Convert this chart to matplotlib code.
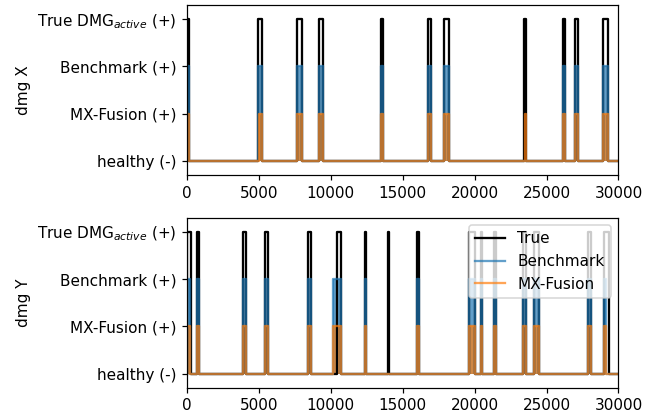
import numpy as np
import matplotlib
matplotlib.use("Agg")
import matplotlib.pyplot as plt

# damage intervals (start, end) per signal
true_x = [(0, 150), (4965, 5190), (7650, 8030), (9190, 9480), (13500, 13650),
          (16730, 16990), (17850, 18240), (23460, 23590), (26125, 26280),
          (26980, 27200), (28950, 29290)]
bench_x = [(0, 150), (4965, 5190), (7650, 8030), (9190, 9480), (13500, 13650),
           (16730, 16990), (17850, 18240), (26125, 26280), (26980, 27200),
           (28950, 29290)]
mxf_x = [(0, 150), (4990, 5190), (7660, 8030), (9190, 9480), (13510, 13650),
         (16730, 16990), (17850, 18240), (23480, 23590), (26125, 26280),
         (26980, 27200), (28950, 29290)]

true_y = [(0, 290), (680, 830), (3930, 4110), (5435, 5635), (8445, 8625),
          (10440, 10750), (12380, 12480), (13970, 14050), (16020, 16130),
          (19630, 20045), (20440, 20550), (21330, 21480), (23345, 23570),
          (24150, 24490), (27860, 28085), (29015, 29310)]
bench_y = [(0, 230), (680, 830), (3930, 4110), (5435, 5635), (8445, 8625),
           (10140, 10750), (12380, 12480), (16020, 16130), (19630, 20045),
           (20440, 20550), (21330, 21480), (23345, 23570), (24150, 24490),
           (27860, 28085), (29000, 29120)]
mxf_y = [(0, 230), (680, 830), (3930, 4110), (5435, 5635), (8445, 8625),
         (10140, 10750), (12380, 12480), (16020, 16130), (19630, 20045),
         (20440, 20550), (21330, 21480), (23345, 23570), (24150, 24490),
         (27860, 28085), (29000, 29120)]

ytick_labels = ["healthy (-)", "MX-Fusion (+)", "Benchmark (+)",
                "True DMG$_{active}$ (+)"]
x_end = 30000


def steps(intervals, level):
    xs = [0]
    ys = [0]
    for s, e in intervals:
        xs += [s, s, e, e]
        ys += [0, level, level, 0]
    xs.append(x_end)
    ys.append(0)
    return np.array(xs), np.array(ys)


fig, axes = plt.subplots(2, 1, figsize=(651 / 110, 416 / 110), dpi=110)
fig.subplots_adjust(left=0.287, right=0.950, top=0.988, bottom=0.068,
                    hspace=0.25)

data = [(true_x, bench_x, mxf_x, "dmg X"), (true_y, bench_y, mxf_y, "dmg Y")]
for ax, (t, b, m, lab) in zip(axes, data):
    ax.plot(*steps(t, 3), color="black", lw=1.5, label="True")
    bx, by = steps(b, 2)
    ax.fill_between(bx, 0, by, color="tab:blue", alpha=0.7, lw=0)
    ax.plot(bx, by, color="tab:blue", lw=1.5, alpha=0.7, label="Benchmark")
    mx, my = steps(m, 1)
    ax.fill_between(mx, 0, my, color="tab:orange", alpha=0.7, lw=0)
    ax.plot(mx, my, color="tab:orange", lw=1.5, alpha=0.7, label="MX-Fusion")
    ax.set_yticks([0, 1, 2, 3])
    ax.set_yticklabels(ytick_labels)
    ax.set_ylim(-0.3, 3.3)
    ax.set_xlim(0, x_end)
    ax.set_ylabel(lab)

axes[1].legend(loc="upper right")

fig.savefig("out.png", dpi=110)
